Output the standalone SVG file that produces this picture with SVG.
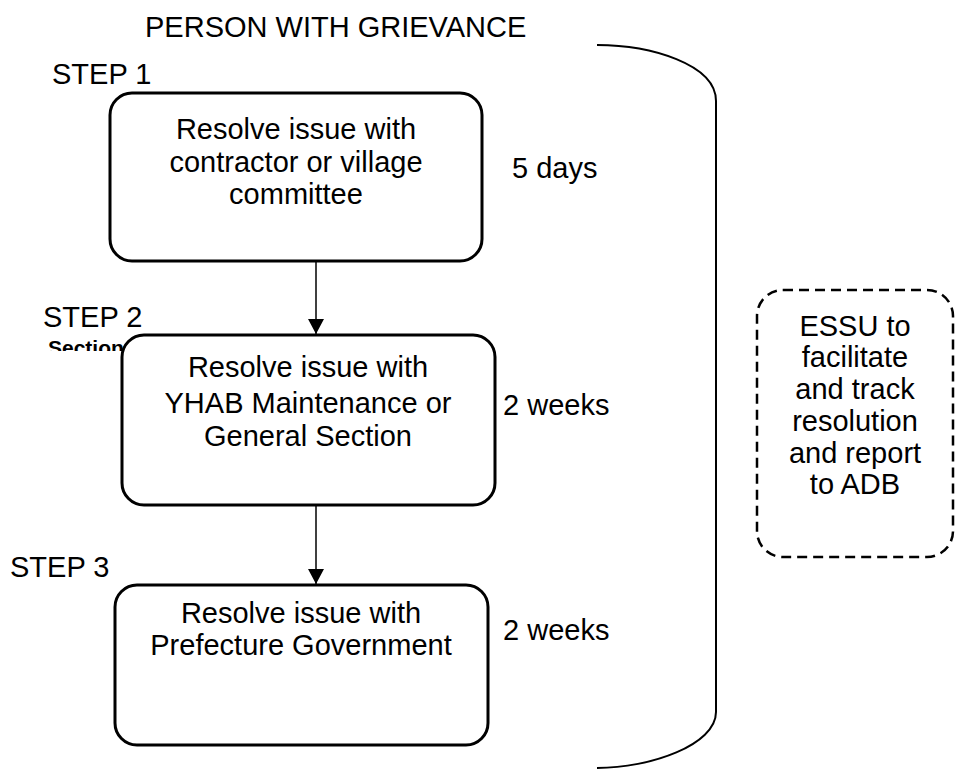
<svg xmlns="http://www.w3.org/2000/svg" width="964" height="772" viewBox="0 0 964 772">
<style>
text{font-family:"Liberation Sans",Arial,sans-serif;fill:#000}
.t{font-size:29px}
.c{text-anchor:middle}
.box{fill:#fff;stroke:#000;stroke-width:3}
.dash{fill:none;stroke:#000;stroke-width:2.5;stroke-dasharray:10 6}
.ln{stroke:#000;stroke-width:1.5;fill:none}
</style>
<defs>
<marker id="ah" markerWidth="15" markerHeight="16" refX="15" refY="8" orient="auto" markerUnits="userSpaceOnUse">
<path d="M0,0 L15,8 L0,16 Z" fill="#000"/>
</marker>
<clipPath id="secclip"><rect x="0" y="0" width="130" height="351"/></clipPath>
</defs>
<rect width="964" height="772" fill="#fff"/>
<text class="t" x="145" y="37">PERSON WITH GRIEVANCE</text>
<text class="t" x="52" y="84">STEP 1</text>
<text class="t" x="43" y="327">STEP 2</text>
<text x="48" y="355" clip-path="url(#secclip)" style="font-size:21px;font-weight:bold">Section</text>
<text class="t" x="10" y="577">STEP 3</text>
<g id="connectors">
<line class="ln" x1="316" y1="262" x2="316" y2="334" marker-end="url(#ah)"/>
<line class="ln" x1="316" y1="505" x2="316" y2="584" marker-end="url(#ah)"/>
<path d="M597,45 C650,45 716,64 716,101 L716,712 C716,745 650,768 597,768" fill="none" stroke="#000" stroke-width="2"/>
</g>
<g id="step1">
<rect class="box" x="110" y="93" width="372" height="168" rx="22"/>
<text class="t c" x="296" y="139">Resolve issue with</text>
<text class="t c" x="296" y="172">contractor or village</text>
<text class="t c" x="296" y="204">committee</text>
</g>
<g id="step2">
<rect class="box" x="122" y="335" width="373" height="170" rx="22"/>
<text class="t c" x="308" y="377">Resolve issue with</text>
<text class="t c" x="308" y="413">YHAB Maintenance or</text>
<text class="t c" x="308" y="446">General Section</text>
</g>
<g id="step3">
<rect class="box" x="115" y="585" width="373" height="160" rx="22"/>
<text class="t c" x="301" y="623">Resolve issue with</text>
<text class="t c" x="301" y="655">Prefecture Government</text>
</g>
<text class="t" x="512" y="178">5 days</text>
<text class="t" x="503" y="415">2 weeks</text>
<text class="t" x="503" y="640">2 weeks</text>
<g id="essu">
<rect class="dash" x="757" y="290" width="196" height="267" rx="26"/>
<text class="t c" x="855" y="336">ESSU to</text>
<text class="t c" x="855" y="367">facilitate</text>
<text class="t c" x="855" y="399">and track</text>
<text class="t c" x="855" y="431">resolution</text>
<text class="t c" x="855" y="463">and report</text>
<text class="t c" x="855" y="494">to ADB</text>
</g>
</svg>
